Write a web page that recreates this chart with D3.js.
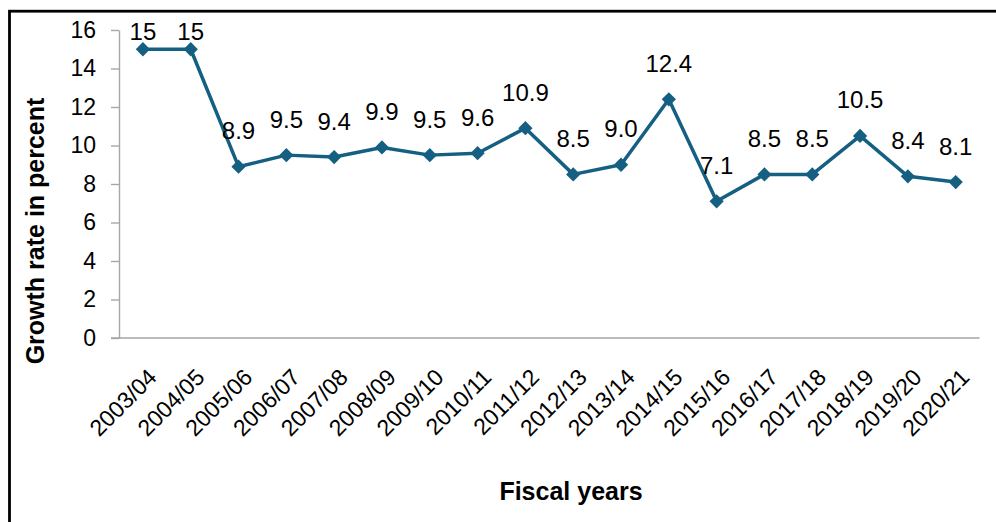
<!DOCTYPE html>
<html>
<head>
<meta charset="utf-8">
<script src="https://cdn.jsdelivr.net/npm/d3@7/dist/d3.min.js"></script>
<style>
  html, body { margin: 0; padding: 0; background: #ffffff; }
  svg { display: block; }
</style>
</head>
<body>
<svg id="chart" width="996" height="522"></svg>
<script>
// Fiscal years on the horizontal axis
const years = ["2003/04", "2004/05", "2005/06", "2006/07", "2007/08", "2008/09",
  "2009/10", "2010/11", "2011/12", "2012/13", "2013/14", "2014/15", "2015/16",
  "2016/17", "2017/18", "2018/19", "2019/20", "2020/21"];
// Annual growth rate, percent
const growth = [15, 15, 8.9, 9.5, 9.4, 9.9, 9.5, 9.6, 10.9, 8.5, 9.0, 12.4, 7.1,
  8.5, 8.5, 10.5, 8.4, 8.1];
// Value labels as printed beside each marker
const growthLabels = ["15", "15", "8.9", "9.5", "9.4", "9.9", "9.5", "9.6", "10.9",
  "8.5", "9.0", "12.4", "7.1", "8.5", "8.5", "10.5", "8.4", "8.1"];
const yTicks = [0, 2, 4, 6, 8, 10, 12, 14, 16];

const svg = d3.select("#chart");
const lineColor = "#156082";
const axisColor = "#a6a6a6";
const font = "'Liberation Sans', Arial, sans-serif";

// Outer frame (continues beyond the right and bottom edges)
svg.append("rect")
  .attr("x", 9.5).attr("y", 11.2)
  .attr("width", 1100).attr("height", 600)
  .attr("fill", "none").attr("stroke", "#000").attr("stroke-width", 2.8);

const x = d3.scalePoint().domain(years).range([119, 979.6]).padding(0.5);
const y = d3.scaleLinear().domain([0, 16]).range([338, 30]);

// Y axis
const yAxis = svg.append("g")
  .attr("transform", "translate(119,0)")
  .call(d3.axisLeft(y).tickValues(yTicks).tickSize(8).tickPadding(15).tickSizeOuter(0));
yAxis.select(".domain").attr("stroke", axisColor).attr("stroke-width", 1.4);
yAxis.selectAll(".tick line").attr("stroke", axisColor).attr("stroke-width", 1.4);
yAxis.selectAll(".tick text")
  .attr("font-family", font).attr("font-size", 23).attr("fill", "#000");

// X axis
const xAxis = svg.append("g")
  .attr("transform", "translate(0,338)")
  .call(d3.axisBottom(x).tickSize(0).tickSizeOuter(0));
xAxis.select(".domain").remove();
xAxis.append("line")
  .attr("x1", x.range()[0] - 8).attr("x2", x.range()[1])
  .attr("y1", 0).attr("y2", 0)
  .attr("stroke", axisColor).attr("stroke-width", 1.4);
xAxis.selectAll(".tick text")
  .attr("font-family", font).attr("font-size", 23).attr("fill", "#000")
  .attr("text-anchor", "end")
  .attr("x", 0).attr("y", 0).attr("dy", "0.72em")
  .attr("transform", "translate(3,29) rotate(-45)");

// Axis titles
svg.append("text")
  .attr("transform", "translate(44,231) rotate(-90)")
  .attr("text-anchor", "middle")
  .attr("font-family", font).attr("font-weight", "bold").attr("font-size", 25)
  .attr("fill", "#000")
  .text("Growth rate in percent");

svg.append("text")
  .attr("x", 571).attr("y", 500)
  .attr("text-anchor", "middle")
  .attr("font-family", font).attr("font-weight", "bold").attr("font-size", 25)
  .attr("fill", "#000")
  .text("Fiscal years");

// Series line
const line = d3.line()
  .x((d, i) => x(years[i]))
  .y(d => y(d));
svg.append("path")
  .datum(growth)
  .attr("d", line)
  .attr("fill", "none")
  .attr("stroke", lineColor)
  .attr("stroke-width", 3.5)
  .attr("stroke-linejoin", "round");

// Diamond markers
svg.append("g").selectAll("path")
  .data(growth)
  .join("path")
  .attr("d", d3.symbol().type(d3.symbolDiamond2).size(130))
  .attr("transform", (d, i) => `translate(${x(years[i])},${y(d)})`)
  .attr("fill", lineColor);

// Value labels above markers, kept inside the frame
svg.append("g").selectAll("text")
  .data(growth)
  .join("text")
  .attr("x", (d, i) => x(years[i]))
  .attr("y", d => Math.max(y(d) - 27.5, 40))
  .attr("text-anchor", "middle")
  .attr("font-family", font).attr("font-size", 24).attr("fill", "#000")
  .text((d, i) => growthLabels[i]);
</script>
</body>
</html>
